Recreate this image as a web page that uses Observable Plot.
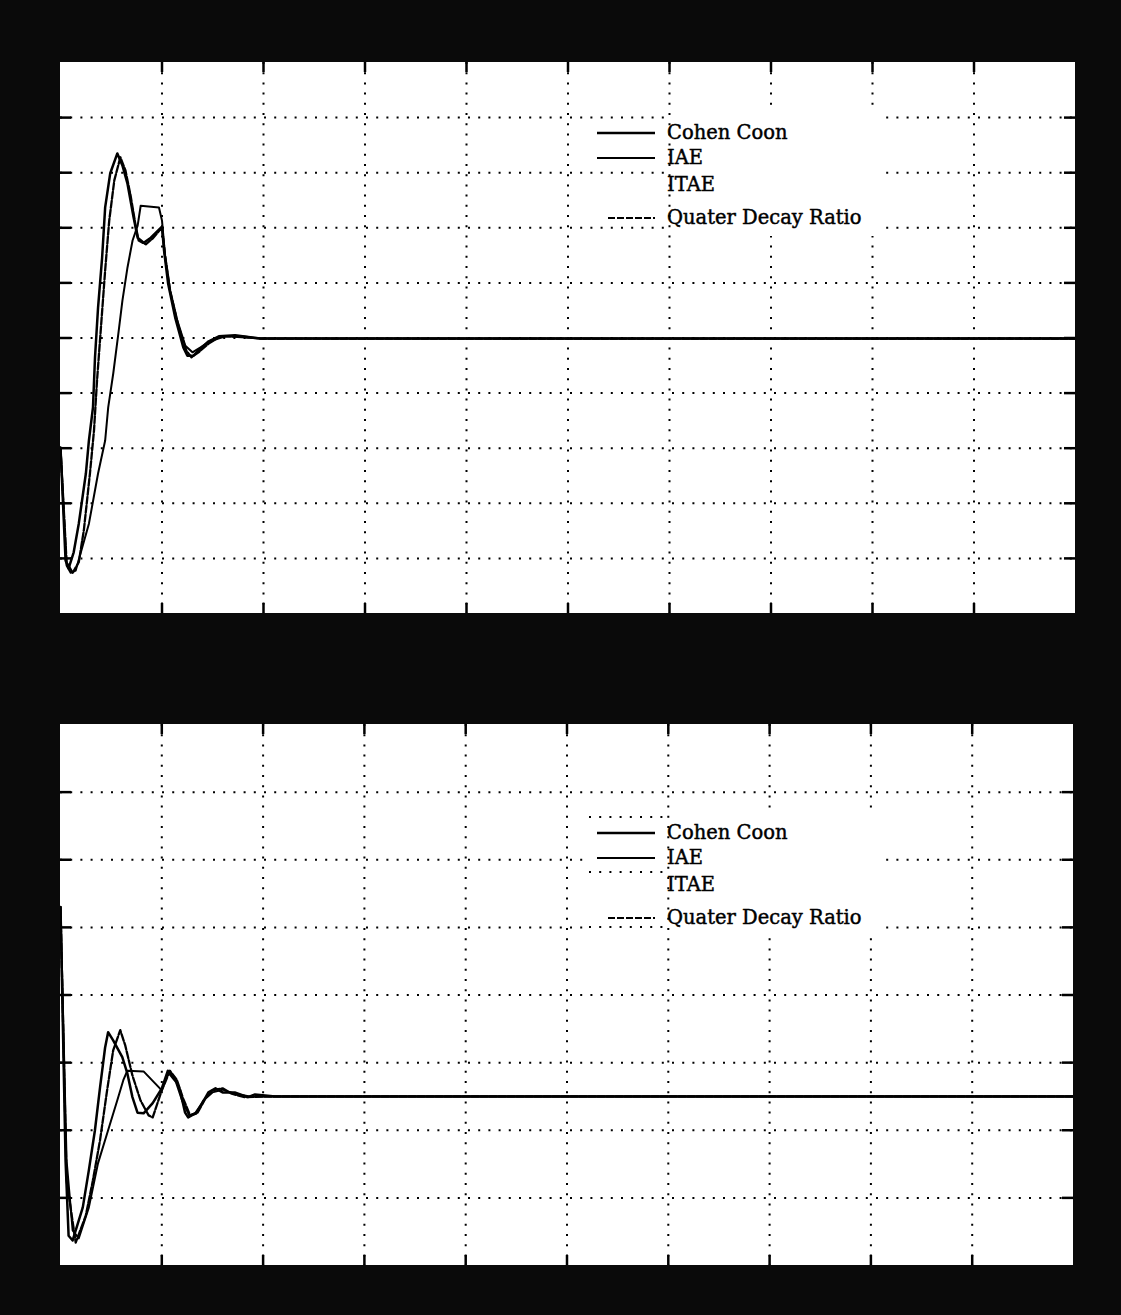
<!DOCTYPE html>
<html><head><meta charset="utf-8">
<script src="https://cdn.jsdelivr.net/npm/d3@7"></script>
<script src="https://cdn.jsdelivr.net/npm/@observablehq/plot@0.6"></script>
<style>
html,body{margin:0;padding:0;background:#0a0a0a;}
#page{position:relative;width:1121px;height:1315px;background:#0a0a0a;overflow:hidden;}
#page > .panel{position:absolute;}
#page > svg.legend{position:absolute;left:0;top:0;pointer-events:none;}
</style></head>
<body><div id="page"></div>
<script>
// ---------- data (time in grid divisions, value in grid divisions) ----------
const seriesNames = ["Cohen Coon", "IAE", "ITAE", "Quater Decay Ratio"];

// top panel
const topCC_t = [0,0.05,0.08,0.13,0.18,0.25,0.28,0.32,0.34,0.37,0.41,0.44,0.49,0.56,0.61,0.66,0.72,0.76,0.82,0.89,0.95,1.00,1.02,1.06,1.13,1.21,1.25,1.31,1.38,1.46,1.56,1.72,1.97,10];
const topCC_v = [3.01,0.96,0.82,1.11,1.63,2.54,3.14,3.74,4.65,5.55,6.46,7.37,7.99,8.35,8.13,7.80,7.19,6.82,6.73,6.82,6.93,7.02,6.59,5.99,5.37,4.83,4.68,4.68,4.81,4.94,5.03,5.05,4.99,4.99];

const topQDR_t = [0,0.06,0.12,0.18,0.23,0.29,0.33,0.36,0.40,0.44,0.48,0.53,0.59,0.64,0.69,0.74,0.77,0.84,0.91,1.00,1.03,1.08,1.16,1.24,1.29,1.36,1.46,1.58,1.77,1.97,10];
const topQDR_v = [3.01,0.93,0.74,0.93,1.51,2.54,3.32,4.23,5.23,6.23,7.13,7.86,8.28,8.04,7.59,7.04,6.77,6.70,6.81,7.01,6.50,5.86,5.23,4.77,4.65,4.74,4.90,5.03,5.03,4.99,4.99];

const topIAE_t = [0,0.06,0.10,0.15,0.28,0.37,0.44,0.47,0.52,0.57,0.61,0.66,0.71,0.76,0.79,0.97,1.00,1.03,1.08,1.15,1.23,1.30,1.38,1.48,1.63,1.82,1.97,10];
const topIAE_v = [3.01,0.87,0.74,0.78,1.63,2.54,3.14,3.74,4.36,5.08,5.68,6.28,6.77,7.04,7.40,7.37,7.13,6.50,5.86,5.32,4.86,4.74,4.83,4.95,5.03,5.01,4.99,4.99];

// bottom panel
const botCC_t = [0,0.05,0.08,0.12,0.22,0.28,0.34,0.39,0.44,0.47,0.52,0.61,0.66,0.71,0.76,0.82,0.91,1.00,1.06,1.13,1.18,1.23,1.26,1.33,1.40,1.46,1.53,1.60,1.72,1.85,1.92,2.12,10];
const botCC_v = [5.30,1.55,0.44,0.37,0.86,1.41,2.00,2.63,3.22,3.45,3.33,3.08,2.84,2.49,2.26,2.25,2.40,2.62,2.88,2.77,2.59,2.26,2.19,2.25,2.40,2.56,2.62,2.56,2.56,2.49,2.53,2.50,2.50];

const botQDR_t = [0,0.06,0.15,0.25,0.32,0.39,0.46,0.52,0.59,0.64,0.71,0.79,0.87,0.91,1.00,1.08,1.15,1.21,1.28,1.35,1.43,1.50,1.60,1.69,1.82,2.12,10];
const botQDR_v = [5.30,1.26,0.34,0.74,1.26,1.85,2.59,3.18,3.48,3.25,2.81,2.44,2.22,2.19,2.59,2.88,2.74,2.47,2.22,2.25,2.47,2.59,2.62,2.54,2.49,2.50,2.50];

const botIAE_t = [0,0.06,0.12,0.18,0.28,0.37,0.47,0.56,0.62,0.66,0.82,1.00,1.06,1.14,1.20,1.27,1.34,1.41,1.50,1.60,1.72,1.87,10];
const botIAE_v = [5.30,1.55,0.52,0.40,0.86,1.51,2.00,2.44,2.74,2.88,2.87,2.59,2.86,2.71,2.44,2.22,2.26,2.44,2.56,2.60,2.54,2.50,2.50];

const xGrid = [1,2,3,4,5,6,7,8,9];
const yGridTop = [1,2,3,4,5,6,7,8,9];
const yGridBot = [1,2,3,4,5,6,7];

// ---------- drawing ----------
const zip = (ts, vs, name) => ts.map((t, i) => ({t, v: vs[i], series: name}));
const styles = {
  "Cohen Coon": {strokeWidth: 2.5},
  "IAE": {strokeWidth: 2},
  "Quater Decay Ratio": {strokeWidth: 2.3, strokeDasharray: "7,2"}
};

function panel({left, top, width, height, yMax, yGrid, data}) {
  const lineMarks = ["IAE", "Quater Decay Ratio", "Cohen Coon"].map(name =>
    Plot.line(data[name], {x: "t", y: "v", stroke: "#000", strokeLinejoin: "round", ...styles[name]}));
  const svg = Plot.plot({
    width, height, margin: 0,
    x: {domain: [0, 10], axis: null},
    y: {domain: [0, yMax], axis: null},
    style: {background: "#fff", overflow: "hidden"},
    marks: [
      Plot.ruleX(xGrid, {stroke: "#000", strokeWidth: 2, strokeDasharray: "2,8.2"}),
      Plot.ruleY(yGrid, {stroke: "#000", strokeWidth: 2, strokeDasharray: "2,8.2"}),
      Plot.ruleX(xGrid, {stroke: "#000", strokeWidth: 2.5, insetBottom: height - 10}),
      Plot.ruleX(xGrid, {stroke: "#000", strokeWidth: 2.5, insetTop: height - 10}),
      Plot.ruleY(yGrid, {stroke: "#000", strokeWidth: 2.5, insetRight: width - 11}),
      Plot.ruleY(yGrid, {stroke: "#000", strokeWidth: 2.5, insetLeft: width - 11}),
      ...lineMarks
    ]
  });
  svg.classList.add("panel");
  svg.style.left = left + "px";
  svg.style.top = top + "px";
  return svg;
}

const page = document.getElementById("page");
page.appendChild(panel({
  left: 60, top: 62, width: 1015, height: 551, yMax: 10, yGrid: yGridTop,
  data: {
    "Cohen Coon": zip(topCC_t, topCC_v, "Cohen Coon"),
    "IAE": zip(topIAE_t, topIAE_v, "IAE"),
    "Quater Decay Ratio": zip(topQDR_t, topQDR_v, "Quater Decay Ratio")
  }
}));
page.appendChild(panel({
  left: 60, top: 724, width: 1013, height: 541, yMax: 8, yGrid: yGridBot,
  data: {
    "Cohen Coon": zip(botCC_t, botCC_v, "Cohen Coon"),
    "IAE": zip(botIAE_t, botIAE_v, "IAE"),
    "Quater Decay Ratio": zip(botQDR_t, botQDR_v, "Quater Decay Ratio")
  }
}));

// ---------- legends (overlay) ----------
const NS = "http://www.w3.org/2000/svg";
const lg = document.createElementNS(NS, "svg");
lg.setAttribute("class", "legend");
lg.setAttribute("width", 1121); lg.setAttribute("height", 1315);
page.appendChild(lg);
function el(tag, attrs, text) {
  const e = document.createElementNS(NS, tag);
  for (const k in attrs) e.setAttribute(k, attrs[k]);
  if (text) e.textContent = text;
  lg.appendChild(e); return e;
}
const sampleStyle = {
  "Cohen Coon": {"stroke-width": 2.4},
  "IAE": {"stroke-width": 1.8},
  "ITAE": {"stroke-width": 0},
  "Quater Decay Ratio": {"stroke-width": 2, "stroke-dasharray": "7,2"}
};
const rowDy = [0, 25, 52, 85];
function legend(y0, copied) {
  el("rect", {x: 672, y: y0 - 29, width: 206, height: 126, fill: "#fff"});
  if (copied) {
    el("rect", {x: 585, y: y0 - 29, width: 80, height: 126, fill: "#fff"});
    [y0 - 22, y0 + 33, y0 + 88].forEach(yy =>
      el("line", {x1: 589, x2: 666, y1: yy, y2: yy, stroke: "#000", "stroke-width": 2, "stroke-dasharray": "2,8.2"}));
  }
  seriesNames.forEach((name, i) => {
    const base = y0 + rowDy[i];
    const sy = base - 6;
    const x1 = name === "Quater Decay Ratio" ? 608 : 597;
    el("line", {x1, x2: 655, y1: sy, y2: sy, stroke: "#000", ...sampleStyle[name]});
    el("text", {x: 667, y: base, "font-family": "DejaVu Serif", "font-size": 19.5, fill: "#000",
      stroke: "#000", "stroke-width": 0.45}, name);
  });
}
legend(139, false);
legend(839, true);
</script>
</body></html>
